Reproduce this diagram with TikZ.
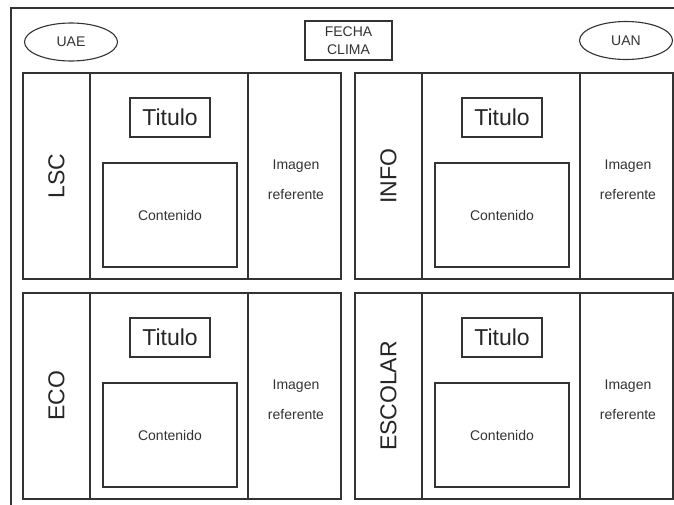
\documentclass[tikz,border=0pt]{standalone}
\usepackage{fontspec}
\setmainfont{Liberation Sans}
\usetikzlibrary{shapes,positioning}

\tikzset{
    panel/.style={draw=black!80, line width=1.1pt},
    smalltxt/.style={text=black!80, font=\fontsize{14}{18}\selectfont},
    bigtxt/.style={text=black!85, font=\fontsize{23}{27}\selectfont},
    logo/.style={panel, ellipse, smalltxt, minimum width=93pt, minimum height=38pt, inner sep=0pt},
    titbox/.style={panel, bigtxt, rectangle, minimum width=80pt, minimum height=39pt, inner sep=0pt},
    conbox/.style={panel, smalltxt, rectangle, minimum width=134pt, minimum height=104pt, inner sep=0pt}
}

\begin{document}
\begin{tikzpicture}[x=1pt, y=-1pt]
    \useasboundingbox (0,0) rectangle (674,504);
    \clip (0,0) rectangle (674,504);
    \fill[white] (0,0) rectangle (674,504);

    % outer frame (runs past the page on the right and bottom)
    \draw[panel] (11,8) rectangle (700,530);

    % header
    \node[logo] (uae) at (71,42) {UAE};
    \node[logo] (uan) at (626,40.5) {UAN};
    \node[panel, smalltxt, rectangle, align=center, minimum width=87pt, minimum height=39pt, inner sep=0pt] (fecha) at (348.5,40.5) {FECHA\\CLIMA};

    % four panels
    \foreach \nm/\lbl/\px/\py in {lsc/LSC/23/73, info/INFO/355/73, eco/ECO/23/293, esc/ESCOLAR/355/293} {
        \draw[panel] (\px,\py) rectangle ++(318,206);
        \draw[panel] (\px+67,\py) -- ++(0,206);
        \draw[panel] (\px+225,\py) -- ++(0,206);
        \node[bigtxt, rotate=90] (\nm-name) at (\px+33.5,\py+103) {\lbl};
        \node[titbox] (\nm-tit) at (\px+147,\py+44.5) {Titulo};
        \node[conbox] (\nm-con) at (\px+147,\py+142) {Contenido};
        \node[smalltxt, align=center, font=\fontsize{14}{30}\selectfont] (\nm-img) at (\px+273,\py+107) {Imagen\\referente};
    }
\end{tikzpicture}
\end{document}
